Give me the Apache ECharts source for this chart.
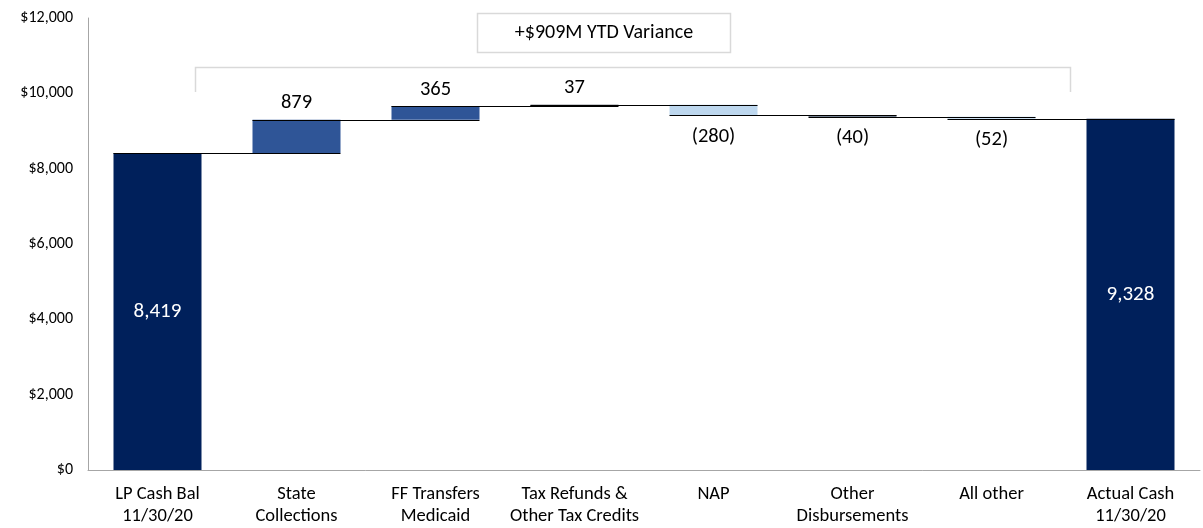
<!DOCTYPE html>
<html>
<head>
<meta charset="utf-8">
<script src="https://cdn.jsdelivr.net/npm/echarts@6/dist/echarts.min.js"></script>
<style>
  html, body { margin: 0; padding: 0; background: #fff; }
  #chart { width: 1203px; height: 528px; }
</style>
</head>
<body>
<div id="chart"></div>
<script>
var categories = ['LP Cash Bal\n11/30/20', 'State\nCollections', 'FF Transfers\nMedicaid', 'Tax Refunds &\nOther Tax Credits', 'NAP', 'Other\nDisbursements', 'All other', 'Actual Cash\n11/30/20'];
// first and last are totals, the rest are changes
var changes = [8419, 879, 365, 37, -280, -40, -52, 9328];
var barColors = ['#00205B', '#2F5597', '#2F5597', '#222A35', '#BDD7EE', '#44546A', '#BDD7EE', '#00205B'];
var yTicks = [0, 2000, 4000, 6000, 8000, 10000, 12000];
var varianceText = '+$909M YTD Variance';

var FONT = "Carlito, 'Liberation Sans', sans-serif";

// build waterfall: invisible base + visible part
var base = [], shown = [], running = [], total = 0;
changes.forEach(function (v, i) {
    if (i === 0 || i === changes.length - 1) {
        base.push(0);
        shown.push(Math.abs(v));
        total = v;
    } else {
        base.push(v >= 0 ? total : total + v);
        shown.push(Math.abs(v));
        total += v;
    }
    running.push(total);
});

var shownData = shown.map(function (v, i) {
    var c = changes[i];
    var item = { value: v, itemStyle: { color: barColors[i] } };
    if (i === 0 || i === changes.length - 1) {
        item.label = { show: true, position: 'inside', color: '#fff', fontSize: 21, formatter: c.toLocaleString('en-US') };
    } else if (c >= 0) {
        item.label = { show: true, position: 'top', distance: 6, color: '#000', formatter: String(c) };
    } else {
        item.label = { show: true, position: 'bottom', distance: 11, color: '#000', formatter: '(' + (-c) + ')' };
    }
    return item;
});

// connector lines: level after bar i, from left of bar i to right of bar i+1
var connectors = [];
for (var i = 0; i < changes.length - 1; i++) {
    connectors.push([i, running[i]]);
}

var option = {
    animation: false,
    grid: { left: 88, right: 3, top: 18, bottom: 58 },
    xAxis: {
        type: 'category',
        data: categories,
        axisLine: { lineStyle: { color: '#A6A6A6', width: 1 } },
        axisTick: { show: false },
        axisLabel: { interval: 0, color: '#000', fontSize: 18.5, fontFamily: FONT, lineHeight: 22, margin: 13 }
    },
    yAxis: {
        type: 'value',
        min: 0,
        max: 12000,
        interval: 2000,
        splitLine: { show: false },
        axisLine: { show: true, lineStyle: { color: '#A6A6A6', width: 1 } },
        axisTick: { show: false },
        axisLabel: {
            color: '#000', fontSize: 16, fontFamily: FONT, margin: 15,
            formatter: function (v) { return yTicks.indexOf(v) >= 0 ? '$' + v.toLocaleString('en-US') : ''; }
        }
    },
    series: [
        {
            type: 'bar',
            stack: 'wf',
            barWidth: 88,
            data: base,
            itemStyle: { color: 'transparent' },
            silent: true
        },
        {
            type: 'bar',
            stack: 'wf',
            barWidth: 88,
            data: shownData,
            label: { fontSize: 20.5, fontFamily: FONT }
        },
        {
            type: 'custom',
            data: connectors,
            z: 5,
            renderItem: function (params, api) {
                var p1 = api.coord([api.value(0), api.value(1)]);
                var p2 = api.coord([api.value(0) + 1, api.value(1)]);
                var half = 44;
                return {
                    type: 'line',
                    shape: { x1: p1[0] - half, y1: Math.round(p1[1]) + 0.5, x2: p2[0] + half, y2: Math.round(p2[1]) + 0.5 },
                    style: { stroke: '#000', lineWidth: 1 }
                };
            }
        }
    ],
    graphic: [
        {
            type: 'polyline',
            shape: { points: [[195.5, 92], [195.5, 67.5], [1070.5, 67.5], [1070.5, 92]] },
            style: { stroke: '#D9D9D9', lineWidth: 1.5, fill: null }
        },
        {
            type: 'rect',
            shape: { x: 477.5, y: 13.5, width: 253, height: 39 },
            style: { stroke: '#D9D9D9', lineWidth: 1.5, fill: '#fff' }
        },
        {
            type: 'text',
            x: 604,
            y: 33,
            style: { text: varianceText, fontSize: 20, fontFamily: FONT, fill: '#000', align: 'center', verticalAlign: 'middle' }
        }
    ]
};

var chart = echarts.init(document.getElementById('chart'));
chart.setOption(option);
</script>
</body>
</html>
